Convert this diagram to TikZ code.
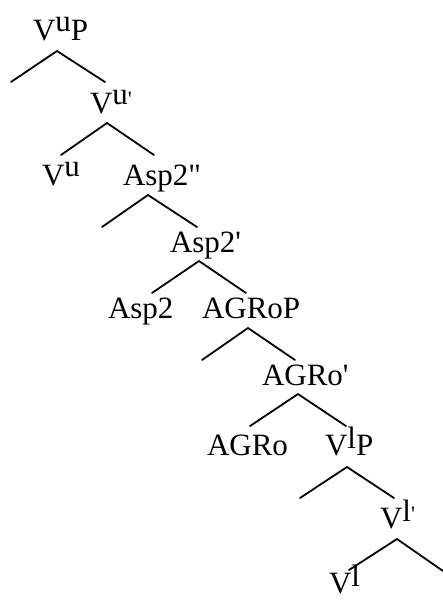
\documentclass[tikz,border=0pt]{standalone}
\usepackage{fontspec}
\setmainfont{Liberation Serif}
\newcommand\hiu[1]{\raisebox{0.27em}{#1}}
\newcommand\hil[1]{\raisebox{0.2em}{#1}}
\newcommand\prm{\raisebox{0.2em}{\fontsize{22}{22}\selectfont\textquotesingle}}
\tikzset{
  lbl/.style={anchor=base west, inner sep=0pt, outer sep=0pt, font=\fontsize{31}{31}\selectfont},
  branch/.style={line width=1.8pt, line cap=round}
}
\begin{document}
\begin{tikzpicture}[x=1pt,y=-1pt]
\useasboundingbox (0,0) rectangle (442,600);
% labels
\node[lbl] (vup)   at (33,40)  {V\hiu{u}P};
\node[lbl] (vubar) at (90,113) {V\hiu{u}\prm};
\node[lbl] (vu)    at (42,185) {V\hiu{u}};
\node[lbl] (asppp) at (123,185) {Asp2\textquotedbl};
\node[lbl] (aspp)  at (170,252) {Asp2\textquotesingle};
\node[lbl] (asp)   at (108,318) {Asp2};
\node[lbl] (agrp)  at (202,318) {AGRoP};
\node[lbl] (agrbar) at (262,385) {AGRo\textquotesingle};
\node[lbl] (agr)   at (207,455) {AGRo};
\node[lbl] (vlp)   at (325,455) {V\hil{l}P};
\node[lbl] (vlbar) at (380,528) {V\hil{l}\prm};
\node[lbl] (vl)    at (329,593) {V\hil{l}};
% apex and branch ends
\coordinate (a1) at (57,51);   \coordinate (l1) at (11,82);   \coordinate (r1) at (105,82);
\coordinate (a2) at (107,123); \coordinate (l2) at (61,155);  \coordinate (r2) at (154,155);
\coordinate (a3) at (148,195); \coordinate (l3) at (102,227); \coordinate (r3) at (197,227);
\coordinate (a4) at (199,261); \coordinate (l4) at (152,293); \coordinate (r4) at (246,293);
\coordinate (a5) at (248,328); \coordinate (l5) at (202,360); \coordinate (r5) at (295,360);
\coordinate (a6) at (298,394); \coordinate (l6) at (250,426); \coordinate (r6) at (346,426);
\coordinate (a7) at (347,467); \coordinate (l7) at (300,498); \coordinate (r7) at (394,498);
\coordinate (a8) at (397,539); \coordinate (l8) at (349,570); \coordinate (r8) at (443,571);
\foreach \i in {1,...,8}{
  \draw[branch] (l\i) -- (a\i) -- (r\i);
}
\end{tikzpicture}
\end{document}
